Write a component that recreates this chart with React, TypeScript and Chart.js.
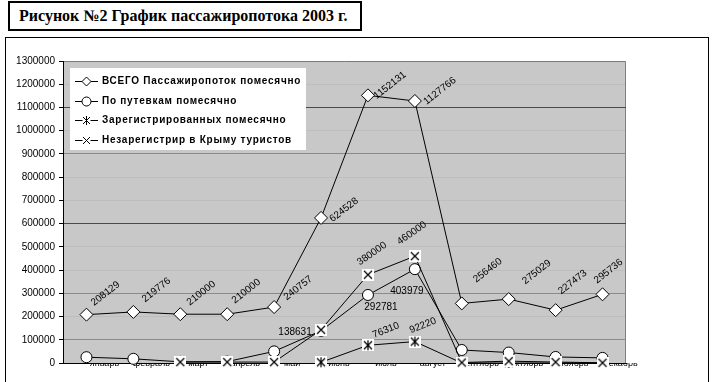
import React, { useEffect, useRef } from "react";
import { Chart, registerables } from "chart.js";

Chart.register(...registerables);

// ---------- data ----------
const months = ["январь", "февраль", "март", "апрель", "май", "июнь", "июль", "август", "сентябрь", "октябрь", "ноябрь", "декабрь"];
const seriesNames = [
  "ВСЕГО Пассажиропоток помесячно",
  "По путевкам помесячно",
  "Зарегистрированных помесячно",
  "Незарегистрир в Крыму туристов",
];
const totalMonthly = [208129, 219776, 210000, 210000, 240757, 624528, 1152131, 1127766, 256460, 275029, 227473, 295736];
const voucherMonthly = [25000, 18000, 5000, 6000, 50000, 138631, 292781, 403979, 56000, 45000, 26000, 22000];
const registeredMonthly = [null, null, null, null, null, 3000, 76310, 92220, 0, 0, 0, 0];
const unregisteredMonthly = [null, null, 4000, 4000, 4000, 143000, 380000, 460000, 2000, 8000, 4000, 1000];
const yMin = 0;
const yMax = 1300000;
const yStep = 100000;
const title = "Рисунок №2 График пассажиропотока 2003 г.";

// data-label placement (style only): [pointIndex, dx, dy]
const labelSpecs = [
  { dataset: 0, angle: -38, points: [[0, 19, -21], [1, 23, -22], [2, 21, -21], [3, 19, -23], [4, 24, -19], [5, 23, -8], [6, 22, -10], [7, 25, -10], [8, 26, -33], [9, 28, -27], [10, 17, -28], [11, 6, -23]] },
  { dataset: 1, angle: 0, points: [[5, -26, 1], [6, 13, 12], [7, -8, 22]] },
  { dataset: 2, angle: -22, points: [[6, 18, -15], [7, 8, -16]] },
  { dataset: 3, angle: -35, points: [[6, 4, -21], [7, -3, -23]] },
];

const FONT = '"Liberation Sans", Arial, sans-serif';

function makeMarker(kind: "x" | "star") {
  const size = 12;
  const c = document.createElement("canvas");
  c.width = size;
  c.height = size;
  const g = c.getContext("2d")!;
  g.fillStyle = "#fff";
  g.fillRect(0, 0, size, size);
  g.strokeStyle = "#000";
  g.lineWidth = 1.2;
  g.beginPath();
  const a = 2, b = size - 2;
  g.moveTo(a, a); g.lineTo(b, b);
  g.moveTo(b, a); g.lineTo(a, b);
  if (kind === "star") {
    g.moveTo(size / 2, 1); g.lineTo(size / 2, size - 1);
  }
  g.stroke();
  return c;
}

function gridColor(v: number) {
  if (v === 1100000 || v === 600000) return "#4a4a4a";
  if (v === 900000 || v === 300000 || v === 100000) return "#8a8a8a";
  return "rgba(0,0,0,0.05)";
}

export default function App() {
  const ref = useRef<HTMLCanvasElement | null>(null);

  useEffect(() => {
    if (!ref.current) return;
    const xMarker = makeMarker("x");
    const starMarker = makeMarker("star");

    const bgPlugin = {
      id: "plotBg",
      beforeDraw(chart: any) {
        const { ctx, chartArea: a } = chart;
        ctx.save();
        ctx.fillStyle = "#c8c8c8";
        ctx.fillRect(a.left, a.top, a.right - a.left, a.bottom - a.top);
        ctx.strokeStyle = "#808080";
        ctx.lineWidth = 1;
        ctx.beginPath();
        ctx.moveTo(a.left, a.top + 0.5);
        ctx.lineTo(a.right - 0.5, a.top + 0.5);
        ctx.lineTo(a.right - 0.5, a.bottom);
        ctx.stroke();
        ctx.restore();
      },
    };

    const labelsPlugin = {
      id: "pointLabels",
      afterDatasetsDraw(chart: any) {
        const ctx = chart.ctx;
        ctx.save();
        ctx.fillStyle = "#000";
        ctx.font = `10px ${FONT}`;
        ctx.textAlign = "center";
        ctx.textBaseline = "middle";
        labelSpecs.forEach((spec) => {
          const meta = chart.getDatasetMeta(spec.dataset);
          const data = chart.data.datasets[spec.dataset].data;
          spec.points.forEach(([idx, dx, dy]) => {
            const el = meta.data[idx];
            if (!el) return;
            ctx.save();
            ctx.translate(el.x + dx, el.y + dy);
            ctx.rotate((spec.angle * Math.PI) / 180);
            ctx.fillText(String(data[idx]), 0, 0);
            ctx.restore();
          });
        });
        ctx.restore();
      },
    };

    const legendPlugin = {
      id: "boxLegend",
      afterDraw(chart: any) {
        const ctx = chart.ctx;
        const left = 70, top = 68, w = 236, h = 82;
        ctx.save();
        ctx.fillStyle = "#fff";
        ctx.fillRect(left, top, w, h);
        ctx.font = `bold 10px ${FONT}`;
        (ctx as any).letterSpacing = "0.75px";
        ctx.textBaseline = "middle";
        ctx.textAlign = "left";
        seriesNames.forEach((name, i) => {
          const y = Math.round(81 + i * 19.7) + 0.5;
          ctx.strokeStyle = "#000";
          ctx.lineWidth = 1;
          ctx.beginPath();
          ctx.moveTo(75, y);
          ctx.lineTo(98, y);
          ctx.stroke();
          const cx = 86.5;
          if (i === 0) {
            ctx.fillStyle = "#fff";
            ctx.beginPath();
            ctx.moveTo(cx, y - 4.5); ctx.lineTo(cx + 4.5, y); ctx.lineTo(cx, y + 4.5); ctx.lineTo(cx - 4.5, y); ctx.closePath();
            ctx.fill(); ctx.stroke();
          } else if (i === 1) {
            ctx.fillStyle = "#fff";
            ctx.beginPath();
            ctx.arc(cx, y, 4.5, 0, Math.PI * 2);
            ctx.fill(); ctx.stroke();
          } else {
            ctx.fillStyle = "#fff";
            ctx.fillRect(cx - 4, y - 5, 8, 10);
            ctx.beginPath();
            ctx.moveTo(cx - 3.5, y - 3.5); ctx.lineTo(cx + 3.5, y + 3.5);
            ctx.moveTo(cx + 3.5, y - 3.5); ctx.lineTo(cx - 3.5, y + 3.5);
            if (i === 2) { ctx.moveTo(cx, y - 4.5); ctx.lineTo(cx, y + 4.5); }
            ctx.stroke();
          }
          ctx.fillStyle = "#000";
          ctx.fillText(name, 102, y);
        });
        ctx.restore();
      },
    };

    const common = {
      borderColor: "#000",
      borderWidth: 1,
      pointBorderColor: "#000",
      pointBackgroundColor: "#fff",
      pointBorderWidth: 1,
      pointRadius: 5.5,
      tension: 0,
      clip: false as any,
      spanGaps: false,
    };

    const chart = new Chart(ref.current, {
      type: "line",
      data: {
        labels: months,
        datasets: [
          { ...common, label: seriesNames[0], data: totalMonthly, pointStyle: "rectRot", pointRadius: 6.5, order: 2 },
          { ...common, label: seriesNames[1], data: voucherMonthly, pointStyle: "circle", order: 3 },
          { ...common, label: seriesNames[2], data: registeredMonthly as any, pointStyle: starMarker as any, order: 1 },
          { ...common, label: seriesNames[3], data: unregisteredMonthly as any, pointStyle: xMarker as any, order: 0 },
        ],
      },
      options: {
        responsive: false,
        animation: false,
        events: [],
        layout: { padding: { top: 61, right: 87, left: 0, bottom: 0 } },
        plugins: { legend: { display: false }, tooltip: { enabled: false }, title: { display: false } },
        scales: {
          x: {
            type: "category",
            offset: true,
            grid: { display: false, drawTicks: false },
            border: { display: true, color: "#000", width: 1 },
            ticks: {
              color: "#000",
              font: { family: FONT, size: 9 },
              padding: -5,
              labelOffset: 18,
              maxRotation: 0,
              minRotation: 0,
              autoSkip: false,
            },
            afterFit(scale: any) {
              scale.height = 19;
            },
          },
          y: {
            min: yMin,
            max: yMax,
            grid: {
              color: (c: any) => gridColor(c.tick ? c.tick.value : 0),
              tickColor: "#000",
              tickLength: 4,
              drawTicks: true,
            },
            border: { display: true, color: "#000", width: 1 },
            ticks: {
              stepSize: yStep,
              color: "#000",
              font: { family: FONT, size: 10 },
              padding: 4,
              callback: (v: any) => String(v),
            },
            afterFit(scale: any) {
              scale.width = 63;
            },
          },
        },
      },
      plugins: [bgPlugin, labelsPlugin, legendPlugin],
    });
    return () => chart.destroy();
  }, []);

  return (
    <div style={{ position: "fixed", left: 0, top: 0, width: 713, height: 382, overflow: "hidden", background: "#fff" }}>
      <div
        style={{
          position: "absolute",
          left: 8,
          top: 1,
          width: 354,
          height: 30,
          boxSizing: "border-box",
          border: "2px solid #000",
          fontFamily: '"Liberation Serif", "Times New Roman", serif',
          fontWeight: "bold",
          fontSize: 16,
          lineHeight: "25px",
          paddingLeft: 9,
          whiteSpace: "nowrap",
          color: "#000",
        }}
      >
        {title}
      </div>
      <div
        style={{
          position: "absolute",
          left: 5,
          top: 37,
          width: 704,
          height: 400,
          boxSizing: "border-box",
          border: "1px solid #000",
        }}
      />
      <canvas ref={ref} width={713} height={382} style={{ position: "absolute", left: 0, top: 0, width: 713, height: 382 }} />
    </div>
  );
}
